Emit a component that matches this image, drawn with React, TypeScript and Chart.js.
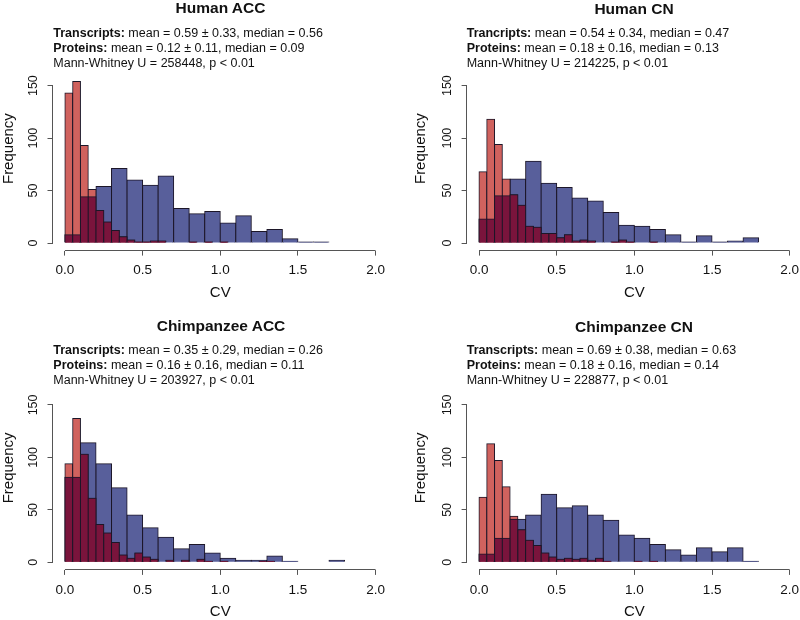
import React, { useEffect, useRef } from "react";
import { Chart, registerables } from "chart.js";

Chart.register(...registerables);

// ---- bins (bin centres) ----
const transcriptBins = [0.05, 0.15, 0.25, 0.35, 0.45, 0.55, 0.65, 0.75, 0.85, 0.95, 1.05, 1.15, 1.25, 1.35, 1.45, 1.55, 1.65, 1.75];
const proteinBins = [
  0.025, 0.075, 0.125, 0.175, 0.225, 0.275, 0.325, 0.375, 0.425, 0.475,
  0.525, 0.575, 0.625, 0.675, 0.725, 0.775, 0.825, 0.875, 0.925, 0.975,
  1.025, 1.075, 1.125, 1.175, 1.225, 1.275, 1.325, 1.375, 1.425, 1.475,
  1.525, 1.575, 1.625, 1.675, 1.725, 1.775,
];
const xTicks = [0, 0.5, 1, 1.5, 2];
const yTicks = [0, 50, 100, 150];

// ---- counts ----
const humanAccTranscripts = [8, 44, 54, 71, 60, 55, 64, 33, 28, 30, 19, 26, 11, 13, 4, 1, 1, 0];
const humanAccProteins = [143, 154, 93, 51, 31, 20, 12, 6, 3, 1, 1, 2, 2, 0, 0, 0, 1, 0, 1, 0, 1, 0, 0, 0, 0, 0, 0, 0, 0, 0, 0, 0, 0, 0, 0, 0];

const humanCnTranscripts = [23, 45, 61, 78, 57, 53, 43, 40, 29, 17, 16, 13, 8, 1, 7, 1, 2, 5];
const humanCnProteins = [68, 118, 94, 61, 46, 36, 16, 15, 9, 9, 5, 8, 2, 3, 2, 0, 0, 1, 3, 1, 0, 0, 1, 0, 0, 0, 0, 0, 0, 0, 0, 0, 0, 0, 0, 0];

const chimpAccTranscripts = [81, 114, 94, 71, 45, 33, 24, 13, 17, 9, 4, 2, 2, 6, 1, 0, 0, 2];
const chimpAccProteins = [94, 137, 103, 61, 36, 28, 19, 7, 4, 9, 5, 3, 0, 2, 0, 2, 0, 3, 1, 0, 1, 0, 0, 0, 0, 1, 1, 0, 0, 0, 0, 0, 0, 0, 0, 0];

const chimpCnTranscripts = [8, 23, 41, 45, 65, 52, 54, 45, 40, 26, 23, 17, 12, 7, 14, 10, 14, 1];
const chimpCnProteins = [62, 113, 97, 72, 44, 31, 21, 16, 9, 5, 3, 4, 3, 4, 2, 4, 1, 0, 0, 0, 1, 0, 1, 0, 0, 0, 0, 0, 0, 0, 0, 0, 0, 0, 0, 0];

// ---- texts ----
const panelTitles = ["Human ACC", "Human CN", "Chimpanzee ACC", "Chimpanzee CN"];
const transcriptLabels = ["Transcripts:", "Trancripts:", "Transcripts:", "Transcripts:"];
const transcriptStats = [
  " mean = 0.59 ± 0.33, median = 0.56",
  " mean = 0.54 ± 0.34, median = 0.47",
  " mean = 0.35 ± 0.29, median = 0.26",
  " mean = 0.69 ± 0.38, median = 0.63",
];
const proteinStats = [
  " mean = 0.12 ± 0.11, median = 0.09",
  " mean = 0.18 ± 0.16, median = 0.13",
  " mean = 0.16 ± 0.16, median = 0.11",
  " mean = 0.18 ± 0.16, median = 0.14",
];
const mannWhitney = [
  "Mann-Whitney U = 258448, p < 0.01",
  "Mann-Whitney U = 214225, p < 0.01",
  "Mann-Whitney U = 203927, p < 0.01",
  "Mann-Whitney U = 228877, p < 0.01",
];

const FONT = "'Liberation Sans', Arial, Helvetica, sans-serif";
const BLUE = "rgb(88,95,155)";
const SALMON = "rgb(208,98,94)";
const MAROON = "rgb(122,20,60)";
const EDGE = "rgb(28,22,40)";
const AXIS = "#555";
const TEXT = "#111";

type Layout = {
  left: number; top: number; w: number; h: number;
  padLeft: number; yWidth: number; padRight: number; padTop: number; padBottom: number;
  titleX: number; titleY: number; textX: number; textY: number;
};

const layouts: Layout[] = [
  { left: 0, top: 0, w: 400, h: 310, padLeft: 0, yWidth: 52.5, padRight: 12, padTop: 46.6, padBottom: 8.4, titleX: 220.5, titleY: 8.3, textX: 53.3, textY: 33.5 },
  { left: 400, top: 0, w: 420, h: 310, padLeft: 11.8, yWidth: 54.8, padRight: 17.9, padTop: 46.6, padBottom: 8.4, titleX: 234, titleY: 8.7, textX: 66.7, textY: 33.4 },
  { left: 0, top: 310, w: 400, h: 315, padLeft: 0, yWidth: 52.5, padRight: 12, padTop: 55.9, padBottom: 4.1, titleX: 221, titleY: 16, textX: 53.3, textY: 40.7 },
  { left: 400, top: 310, w: 420, h: 315, padLeft: 11.8, yWidth: 54.8, padRight: 17.9, padTop: 55.9, padBottom: 4.1, titleX: 234, titleY: 16.5, textX: 66.7, textY: 40.7 },
];

const transcriptsByPanel = [humanAccTranscripts, humanCnTranscripts, chimpAccTranscripts, chimpCnTranscripts];
const proteinsByPanel = [humanAccProteins, humanCnProteins, chimpAccProteins, chimpCnProteins];

const alignPx = (v: number) => Math.round(v - 0.5) + 0.5;

const rAxesPlugin = {
  id: "rAxes",
  afterDraw(chart: any) {
    const { ctx, chartArea, scales } = chart;
    const x = scales.x;
    const y = scales.y;
    ctx.save();
    ctx.strokeStyle = AXIS;
    ctx.lineWidth = 1;
    ctx.beginPath();
    const yb = alignPx(chartArea.bottom);
    ctx.moveTo(x.getPixelForValue(xTicks[0]), yb);
    ctx.lineTo(x.getPixelForValue(xTicks[xTicks.length - 1]), yb);
    const xl = alignPx(chartArea.left);
    ctx.moveTo(xl, y.getPixelForValue(yTicks[0]));
    ctx.lineTo(xl, y.getPixelForValue(yTicks[yTicks.length - 1]));
    ctx.stroke();
    ctx.restore();
  },
};

function Panel({ index }: { index: number }) {
  const ref = useRef<HTMLCanvasElement | null>(null);
  const L = layouts[index];

  useEffect(() => {
    if (!ref.current) return;
    const transcripts = transcriptsByPanel[index];
    const proteins = proteinsByPanel[index];
    const overlap = proteins.map((p, i) => Math.min(p, transcripts[Math.floor(i / 2)] ?? 0));
    const common = {
      borderColor: EDGE,
      borderWidth: 1,
      borderSkipped: "start",
      inflateAmount: 0.5,
      grouped: false,
      categoryPercentage: 1,
    };

    const chart = new Chart(ref.current, {
      type: "bar",
      data: {
        datasets: [
          {
            ...common,
            label: "Overlap",
            data: proteinBins.map((x, i) => ({ x, y: overlap[i] })),
            backgroundColor: MAROON,
            barPercentage: 2,
            order: 0,
          } as any,
          {
            ...common,
            label: "Proteins",
            data: proteinBins.map((x, i) => ({ x, y: proteins[i] })),
            backgroundColor: SALMON,
            barPercentage: 2,
            order: 1,
          } as any,
          {
            ...common,
            label: "Transcripts",
            data: transcriptBins.map((x, i) => ({ x, y: transcripts[i] })),
            backgroundColor: BLUE,
            barPercentage: 4,
            order: 2,
          } as any,
        ],
      },
      options: {
        responsive: false,
        animation: false,
        devicePixelRatio: 1,
        layout: { padding: { left: L.padLeft, right: L.padRight, top: L.padTop, bottom: L.padBottom } },
        plugins: { legend: { display: false }, tooltip: { enabled: false }, title: { display: false } },
        scales: {
          x: {
            type: "linear",
            min: -0.08,
            max: 2.08,
            offset: false,
            afterBuildTicks: (s: any) => { s.ticks = xTicks.map((v) => ({ value: v })); },
            afterFit: (s: any) => { s.height = 51; },
            ticks: {
              autoSkip: false,
              maxRotation: 0,
              padding: 7,
              color: TEXT,
              font: { family: FONT, size: 13.5 },
              callback: (v: any) => Number(v).toFixed(1),
            },
            grid: { display: true, drawOnChartArea: false, drawTicks: true, tickLength: 5, color: AXIS, offset: false },
            border: { display: false },
            title: { display: true, text: "CV", color: TEXT, font: { family: FONT, size: 15 }, padding: 0 },
          },
          y: {
            type: "linear",
            min: -7.2,
            max: 187.2,
            afterBuildTicks: (s: any) => { s.ticks = yTicks.map((v) => ({ value: v })); },
            afterFit: (s: any) => { s.width = L.yWidth; },
            ticks: {
              minRotation: 90,
              maxRotation: 90,
              crossAlign: "center",
              padding: 3.7,
              color: TEXT,
              font: { family: FONT, size: 12.5 },
              callback: (v: any) => String(v),
            },
            grid: { display: true, drawOnChartArea: false, drawTicks: true, tickLength: 5, color: AXIS },
            border: { display: false },
            title: { display: true, text: "Frequency", color: TEXT, font: { family: FONT, size: 15 }, padding: 0 },
          },
        },
      } as any,
      plugins: [rAxesPlugin],
    });
    return () => chart.destroy();
  }, [index]);

  const lineH = 14.9;
  return (
    <div style={{ position: "absolute", left: L.left, top: L.top, width: L.w, height: L.h }}>
      <canvas ref={ref} width={L.w} height={L.h} style={{ width: L.w, height: L.h, display: "block" }} />
      <div
        style={{
          position: "absolute", left: L.titleX, top: L.titleY - 9, transform: "translateX(-50%)",
          fontFamily: FONT, fontWeight: "bold", fontSize: 15.5, lineHeight: "18px", color: TEXT, whiteSpace: "nowrap",
        }}
      >
        {panelTitles[index]}
      </div>
      <div
        style={{
          position: "absolute", left: L.textX, top: L.textY - lineH / 2,
          fontFamily: FONT, fontSize: 12.5, lineHeight: `${lineH}px`, color: TEXT, whiteSpace: "nowrap",
        }}
      >
        <div><b>{transcriptLabels[index]}</b>{transcriptStats[index]}</div>
        <div><b>Proteins:</b>{proteinStats[index]}</div>
        <div>{mannWhitney[index]}</div>
      </div>
    </div>
  );
}

export default function App() {
  return (
    <div style={{ position: "absolute", left: 0, top: 0, width: 800, height: 620, overflow: "hidden", background: "#fff" }}>
      {[0, 1, 2, 3].map((i) => (
        <Panel key={i} index={i} />
      ))}
    </div>
  );
}
